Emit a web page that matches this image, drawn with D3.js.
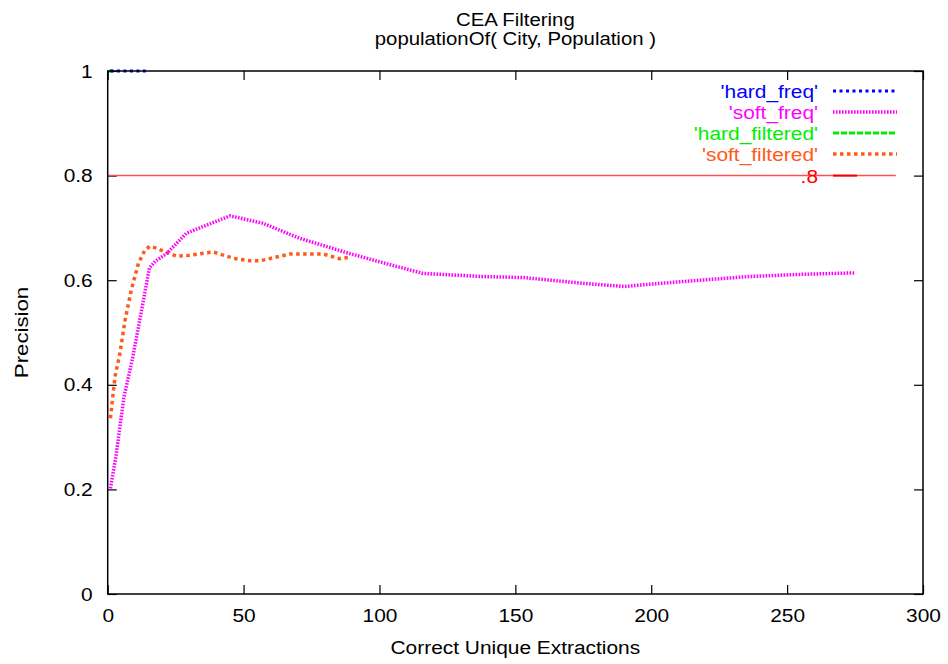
<!DOCTYPE html>
<html>
<head>
<meta charset="utf-8">
<script src="https://cdn.jsdelivr.net/npm/d3@7"></script>
<style>
  html, body { margin: 0; padding: 0; background: #fff; }
  svg { display: block; font-family: "Liberation Sans", Arial, Helvetica, sans-serif; }
</style>
</head>
<body>
<svg id="chart" width="948" height="664"></svg>
<script>
// Precision vs. correct unique extractions for populationOf( City, Population )
const xTicks = [0, 50, 100, 150, 200, 250, 300];
const yTicks = [0, 0.2, 0.4, 0.6, 0.8, 1];
const yTickLabels = ["0", "0.2", "0.4", "0.6", "0.8", "1"];

const hardFreqX = [1, 3, 5, 7, 9, 11, 14];
const hardFreqY = [1, 1, 1, 1, 1, 1, 1];

const softFreqX = [1, 3, 6, 9, 12.5, 15.3, 17.5, 21.7, 29, 45, 57, 70.7, 89, 103, 116, 138, 153, 175, 190, 205.5, 218, 236, 254, 275];
const softFreqY = [0.202, 0.262, 0.377, 0.447, 0.543, 0.623, 0.636, 0.651, 0.690, 0.723, 0.709, 0.680, 0.651, 0.631, 0.613, 0.607, 0.605, 0.594, 0.588, 0.595, 0.600, 0.607, 0.611, 0.614];

const hardFilteredX = [0.5, 2];
const hardFilteredY = [1, 1];

const softFilteredX = [1, 2.7, 4.5, 6.4, 8.8, 11.3, 13.7, 15.6, 18, 21.7, 25.4, 29, 38.8, 46.2, 52.3, 56, 67, 79.3, 85.4, 89];
const softFilteredY = [0.336, 0.416, 0.460, 0.524, 0.584, 0.632, 0.658, 0.665, 0.661, 0.653, 0.646, 0.647, 0.654, 0.642, 0.637, 0.637, 0.650, 0.650, 0.641, 0.644];

const refLevel = 0.8;
const refRangeX = [0, 290];

const series = [
  { name: "'hard_freq'", xs: hardFreqX, ys: hardFreqY, color: "#0000ff", width: 3, dash: "3,3.5" },
  { name: "'soft_freq'", xs: softFreqX, ys: softFreqY, color: "#ff00ff", width: 3.5, dash: "1.6,1.4" },
  { name: "'hard_filtered'", xs: hardFilteredX, ys: hardFilteredY, color: "#00ee00", width: 3, dash: "6,2" },
  { name: "'soft_filtered'", xs: softFilteredX, ys: softFilteredY, color: "#ff5a1a", width: 3.5, dash: "3.5,3.5" }
];

const svg = d3.select("#chart");
const W = 948, H = 664;
const margin = { left: 107.7, right: W - 923, top: 71, bottom: H - 594 };

const x = d3.scaleLinear().domain([0, 300]).range([margin.left, W - margin.right]);
const y = d3.scaleLinear().domain([0, 1]).range([H - margin.bottom, margin.top]);

const fontSize = 19;
const stretch = 1.1; // glyphs are drawn slightly wide

// Text helper: horizontally widened label anchored at (px, py)
function label(parent, px, py, str, opts = {}) {
  const t = parent.append("text")
    .attr("transform", `translate(${px},${py}) ${opts.rotate ? `rotate(${opts.rotate})` : ""} scale(${opts.sx || stretch},1)`)
    .attr("text-anchor", opts.anchor || "middle")
    .attr("font-size", opts.size || fontSize)
    .attr("fill", opts.fill || "#000")
    .text(str);
  if (opts.dy) t.attr("dy", opts.dy);
  return t;
}

// Titles
const cx = (x(0) + x(300)) / 2;
label(svg, cx, 26, "CEA Filtering", { size: 18.5 });
label(svg, cx, 45, "populationOf( City, Population )", { size: 18.5 });

// Axes with inward ticks, mirrored on top and right
const tickLen = 9;
const gL = svg.append("g").attr("transform", `translate(${x(0)},0)`)
  .call(d3.axisLeft(y).tickValues(yTicks).tickFormat((d, i) => yTickLabels[i]).tickSize(-tickLen).tickPadding(15));
const gB = svg.append("g").attr("transform", `translate(0,${y(0)})`)
  .call(d3.axisBottom(x).tickValues(xTicks).tickFormat(d3.format("d")).tickSize(-tickLen).tickPadding(14.5));
const gR = svg.append("g").attr("transform", `translate(${x(300)},0)`)
  .call(d3.axisRight(y).tickValues(yTicks).tickFormat("").tickSize(-tickLen));
const gT = svg.append("g").attr("transform", `translate(0,${y(1)})`)
  .call(d3.axisTop(x).tickValues(xTicks).tickFormat("").tickSize(-tickLen));

[gL, gB, gR, gT].forEach(g => {
  g.select(".domain").remove();
  g.selectAll(".tick line").attr("stroke", "#000").attr("stroke-width", 1.2);
  g.selectAll(".tick text").attr("font-size", fontSize).attr("fill", "#000")
    .attr("font-family", "\"Liberation Sans\", Arial, Helvetica, sans-serif");
});
// widen tick labels around their anchor
gL.selectAll(".tick text").each(function () {
  const t = d3.select(this);
  t.attr("x", +t.attr("x") / stretch).attr("transform", `scale(${stretch},1)`);
});
gB.selectAll(".tick text").attr("transform", `scale(${stretch},1)`);

// Axis titles
label(svg, cx, 654, "Correct Unique Extractions");
label(svg, 28, (y(0) + y(1)) / 2, "Precision", { rotate: -90, sx: 1.17 });

// Reference level line
svg.append("line")
  .attr("x1", x(refRangeX[0])).attr("x2", x(refRangeX[1]))
  .attr("y1", y(refLevel)).attr("y2", y(refLevel))
  .attr("stroke", "#ff5050").attr("stroke-width", 1.5);

// Series
const line = d3.line().x(d => x(d[0])).y(d => y(d[1]));
series.slice().reverse().forEach(s => {
  const pts = s.xs.map((v, i) => [v, s.ys[i]]);
  svg.append("path").datum(pts).attr("d", line)
    .attr("fill", "none").attr("stroke", s.color).attr("stroke-width", s.width)
    .attr("stroke-dasharray", s.dash);
});

// Frame
svg.append("rect").attr("x", x(0)).attr("y", y(1))
  .attr("width", x(300) - x(0)).attr("height", y(0) - y(1))
  .attr("fill", "none").attr("stroke", "#000").attr("stroke-width", 1.5);

// Legend
const legendRows = [91, 112, 133, 154];
const legend = svg.append("g");
series.forEach((s, i) => {
  const ry = legendRows[i];
  label(legend, 818, ry, s.name, { anchor: "end", fill: s.color, dy: "0.35em" });
  legend.append("line").attr("x1", 833).attr("x2", 897).attr("y1", ry).attr("y2", ry)
    .attr("stroke", s.color).attr("stroke-width", s.width).attr("stroke-dasharray", s.dash);
});
label(legend, 818, y(refLevel) + 1, ".8", { anchor: "end", fill: "#ff0000", dy: "0.35em" });
legend.append("line").attr("x1", 833).attr("x2", 857).attr("y1", y(refLevel)).attr("y2", y(refLevel))
  .attr("stroke", "#ee0000").attr("stroke-width", 2);
</script>
</body>
</html>
